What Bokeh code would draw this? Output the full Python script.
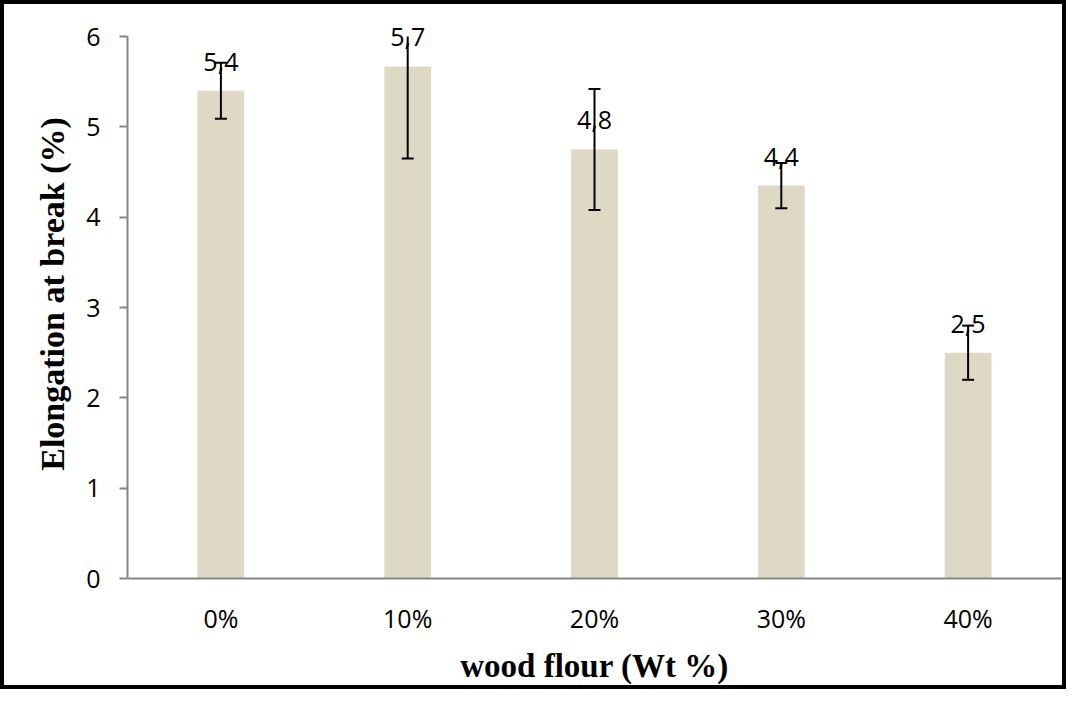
from bokeh.plotting import figure
from bokeh.models import ColumnDataSource, FactorRange, Range1d, FixedTicker
from bokeh.core.properties import value
from bokeh.embed import file_html
from bokeh.resources import INLINE

categories = ["0%", "10%", "20%", "30%", "40%"]
elongation = [5.40, 5.67, 4.75, 4.35, 2.50]
errors = [0.31, 1.02, 0.67, 0.25, 0.30]
data_labels = ["5,4", "5,7", "4,8", "4,4", "2,5"]
y_ticks = [0, 1, 2, 3, 4, 5, 6]
y_axis_max = 6

upper = [v + e for v, e in zip(elongation, errors)]
lower = [v - e for v, e in zip(elongation, errors)]
# error bar line stops at the axis maximum (as in the original); caps above it are not shown
upper_line = [min(u, y_axis_max) for u in upper]
cap_alpha = [1.0 if u <= y_axis_max else 0.0 for u in upper]

src = ColumnDataSource(dict(cat=categories, val=elongation, up=upper, lo=lower,
                            upl=upper_line, ca=cap_alpha, lab=data_labels))

p = figure(x_range=FactorRange(*categories, range_padding=0), y_range=Range1d(0, 6.3),
           width=1066, height=689, output_backend="svg", toolbar_location=None,
           min_border_left=123, min_border_right=9, min_border_top=5, min_border_bottom=115)
p.styles = {"border": "4px solid black"}
p.outline_line_color = None
p.xgrid.grid_line_color = None
p.ygrid.grid_line_color = None
p.background_fill_color = "white"
p.border_fill_color = "white"

p.vbar(x="cat", top="val", width=0.25, source=src, fill_color="#DDD9C4", line_color=None)
p.segment(x0="cat", y0="lo", x1="cat", y1="upl", source=src, line_color="black", line_width=2)
p.scatter(x="cat", y="up", source=src, marker="dash", size=12, line_color="black",
          line_alpha="ca", line_width=2)
p.scatter(x="cat", y="lo", source=src, marker="dash", size=12, line_color="black", line_width=2)
p.text(x="cat", y="val", text="lab", source=src, text_align="center", text_baseline="alphabetic",
       y_offset=-29, text_font=value("Open Sans"), text_font_size="25px", text_color="black")

ax = p.xaxis[0]
ax.axis_line_color = "#868686"
ax.axis_line_width = 2
ax.major_tick_line_color = None
ax.minor_tick_line_color = None
ax.major_tick_out = 0
ax.major_label_text_font = "Open Sans"
ax.major_label_text_font_size = "25px"
ax.major_label_text_color = "black"
ax.major_label_standoff = 22
ax.axis_label = "wood flour (Wt %)"
ax.axis_label_text_font = "Liberation Serif"
ax.axis_label_text_font_style = "bold"
ax.axis_label_text_font_size = "33px"
ax.axis_label_text_color = "black"
ax.axis_label_standoff = 10

ay = p.yaxis[0]
ay.ticker = FixedTicker(ticks=y_ticks)
ay.bounds = (0, y_axis_max)
ay.axis_line_color = "#868686"
ay.axis_line_width = 2
ay.major_tick_line_color = "#868686"
ay.major_tick_line_width = 2
ay.major_tick_out = 8
ay.major_tick_in = 0
ay.minor_tick_line_color = None
ay.major_label_text_font = "Open Sans"
ay.major_label_text_font_size = "25px"
ay.major_label_text_color = "black"
ay.major_label_standoff = 19
ay.axis_label = "Elongation at break (%)"
ay.axis_label_text_font = "Liberation Serif"
ay.axis_label_text_font_style = "bold"
ay.axis_label_text_font_size = "34px"
ay.axis_label_text_color = "black"
ay.axis_label_standoff = 12

open("out.html", "w").write(file_html(p, INLINE))
